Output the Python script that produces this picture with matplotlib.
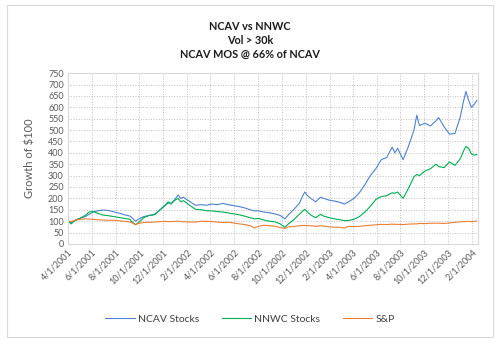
import numpy as np
import pandas as pd
import matplotlib
matplotlib.use('Agg')
import matplotlib.pyplot as plt
from matplotlib.patches import Rectangle

plt.rcParams['font.family'] = ['Lato', 'DejaVu Sans']

dates = ['2001-04-02', '2001-04-09', '2001-04-20', '2001-05-01', '2001-05-15', '2001-05-25',
         '2001-06-05', '2001-06-15', '2001-06-29', '2001-07-13', '2001-07-27', '2001-08-10',
         '2001-08-24', '2001-09-07', '2001-09-10', '2001-09-21', '2001-09-28', '2001-10-12',
         '2001-10-26', '2001-11-09', '2001-11-23', '2001-12-07', '2001-12-14', '2001-12-21',
         '2001-12-31', '2002-01-08', '2002-01-15', '2002-01-22', '2002-01-30', '2002-02-08',
         '2002-02-22', '2002-03-08', '2002-03-22', '2002-04-05', '2002-04-19', '2002-05-03',
         '2002-05-17', '2002-05-31', '2002-06-14', '2002-06-28', '2002-07-12', '2002-07-23',
         '2002-08-02', '2002-08-16', '2002-08-30', '2002-09-13', '2002-09-27', '2002-10-09',
         '2002-10-18', '2002-10-31', '2002-11-15', '2002-11-22', '2002-11-29', '2002-12-06',
         '2002-12-16', '2002-12-27', '2003-01-08', '2003-01-17', '2003-01-31', '2003-02-14',
         '2003-02-28', '2003-03-11', '2003-03-21', '2003-04-04', '2003-04-18', '2003-05-02',
         '2003-05-16', '2003-05-30', '2003-06-13', '2003-06-27', '2003-07-11', '2003-07-18',
         '2003-07-25', '2003-08-08', '2003-08-22', '2003-09-05', '2003-09-12', '2003-09-19',
         '2003-10-03', '2003-10-17', '2003-10-31', '2003-11-07', '2003-11-21', '2003-12-05',
         '2003-12-19', '2004-01-02', '2004-01-09', '2004-01-16', '2004-01-23', '2004-01-30',
         '2004-02-06', '2004-02-13']

ncav = [100, 92, 105, 112, 120, 130,
        140, 145, 149, 147, 141, 135,
        128, 122, 118, 100, 108, 120,
        125, 130, 150, 170, 180, 178,
        195, 215, 200, 205, 195, 185,
        170, 172, 170, 175, 172, 178,
        172, 168, 164, 158, 150, 145,
        145, 140, 137, 132, 125, 110,
        128, 150, 178, 205, 228, 212,
        198, 185, 205, 200, 192, 188,
        182, 175, 185, 200, 225, 260,
        300, 330, 370, 380, 425, 400,
        420, 370, 430, 500, 565, 520,
        530, 518, 540, 555, 515, 482,
        485, 560, 620, 670, 630, 600,
        612, 630]

nnwc = [100, 88, 104, 112, 125, 140,
        143, 135, 127, 124, 120, 116,
        112, 108, 100, 85, 92, 115,
        125, 128, 150, 172, 185, 175,
        192, 200, 185, 190, 180, 168,
        152, 150, 146, 145, 142, 140,
        136, 132, 128, 122, 115, 110,
        112, 105, 100, 97, 88, 73,
        88, 105, 130, 142, 152, 140,
        125, 115, 130, 122, 115, 110,
        106, 102, 103, 108, 120, 140,
        165, 195, 208, 212, 225, 222,
        228, 200, 245, 295, 305, 300,
        320, 330, 350, 340, 335, 360,
        345, 375, 405, 428, 420, 395,
        390, 392]

sp = [100, 98, 104, 108, 110, 109,
      108, 106, 105, 104, 104, 102,
      99, 96, 95, 84, 90, 94,
      95, 96, 98, 99, 98, 98,
      99, 100, 98, 97, 97, 96,
      96, 100, 99, 98, 96, 94,
      95, 92, 88, 85, 80, 70,
      77, 82, 80, 78, 72, 68,
      75, 76, 80, 81, 81, 80,
      80, 77, 80, 78, 75, 73,
      73, 70, 77, 76, 77, 80,
      82, 84, 86, 85, 87, 86,
      86, 85, 87, 88, 88, 90,
      89, 91, 91, 91, 90, 92,
      95, 97, 98, 98, 99, 98,
      99, 100]

x = pd.to_datetime(dates)

fig = plt.figure(figsize=(5, 3.45), dpi=100)
# chart area border
fig.patches.append(Rectangle((0.014, 0.024), 0.972, 0.962, transform=fig.transFigure,
                             fill=False, edgecolor='#D9D9D9', linewidth=0.8))
ax = fig.add_axes([0.136, 0.293, 0.82, 0.495])

ax.plot(x, ncav, color='#4F81D0', linewidth=0.8, label='NCAV Stocks')
ax.plot(x, nnwc, color='#00B050', linewidth=0.8, label='NNWC Stocks')
ax.plot(x, sp, color='#ED7D31', linewidth=0.8, label='S&P')

ax.set_ylim(0, 750)
ax.set_yticks(np.arange(0, 751, 50))
ax.set_xlim(pd.Timestamp('2001-04-01'), pd.Timestamp('2004-02-16'))
ticks = pd.date_range('2001-04-01', '2004-02-01', freq='2MS')
ax.set_xticks(ticks)
ax.set_xticklabels([f'{d.month}/{d.day}/{d.year}' for d in ticks], rotation=45,
                   ha='right', rotation_mode='anchor')
ax.tick_params(axis='both', labelsize=6.5, labelcolor='#595959', length=0, pad=3)
ax.grid(True, color='#BFBFBF', linestyle=':', linewidth=0.7)
for s in ax.spines.values():
    s.set_color('#D9D9D9')
    s.set_linewidth(0.8)
ax.set_ylabel('Growth of $100', fontsize=8, color='#595959', labelpad=9)

fig.text(0.5, 0.94, 'NCAV vs NNWC\nVol > 30k\nNCAV MOS @ 66% of NCAV', ha='center', va='top',
         fontsize=7.8, fontweight='bold', color='#1a1a1a', linespacing=1.35)

fig.legend(loc='center', bbox_to_anchor=(0.5, 0.075), ncol=3, frameon=False, fontsize=7.5,
           handlelength=2.8, columnspacing=2.2, handletextpad=0.3, labelcolor='#404040')

plt.savefig('out.png', dpi=100)
